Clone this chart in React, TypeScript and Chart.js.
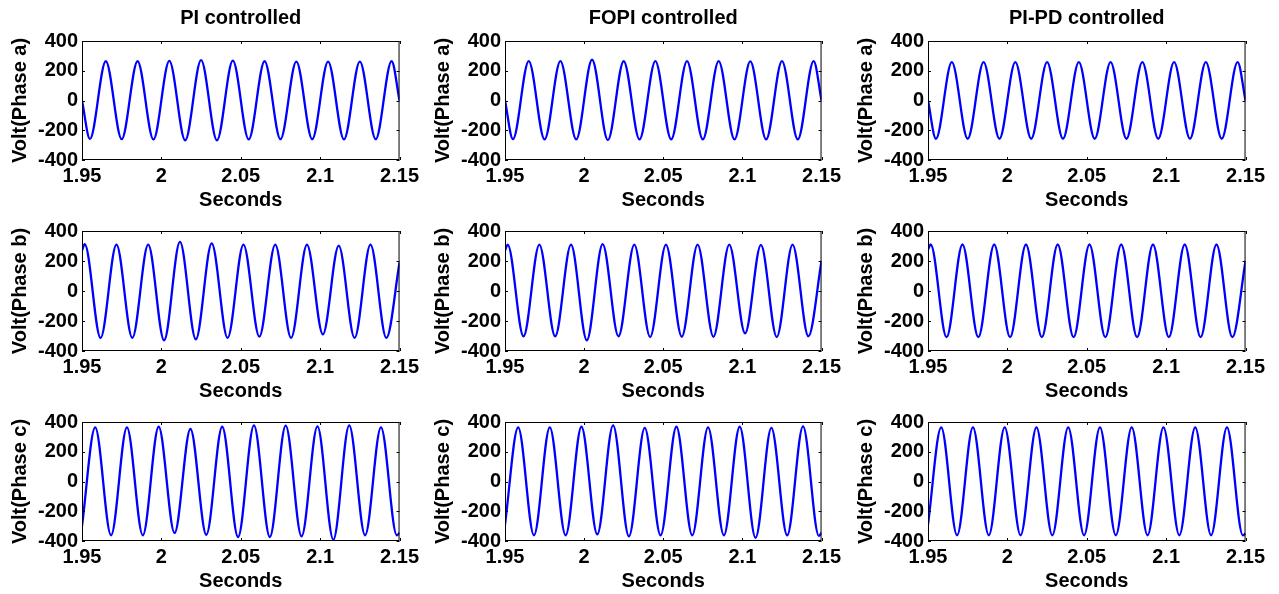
import React, { useEffect, useRef } from "react";
import { Chart, registerables } from "chart.js";

Chart.register(...registerables);

// ---------- data ----------
const COLUMN_TITLES = ["PI controlled", "FOPI controlled", "PI-PD controlled"];
const ROW_LABELS = ["Volt(Phase a)", "Volt(Phase b)", "Volt(Phase c)"];
const X_LABEL = "Seconds";
const X_TICKS = [1.95, 2, 2.05, 2.1, 2.15];
const Y_TICKS = [-400, -200, 0, 200, 400];

// sample times: window ends plus every peak / trough of each phase
const TIME_A = [
  1.95, 1.955, 1.965, 1.975, 1.985, 1.995, 2.005, 2.015, 2.025, 2.035, 2.045,
  2.055, 2.065, 2.075, 2.085, 2.095, 2.105, 2.115, 2.125, 2.135, 2.145, 2.15,
];
const TIME_B = [
  1.95, 1.9517, 1.9617, 1.9717, 1.9817, 1.9917, 2.0017, 2.0117, 2.0217, 2.0317, 2.0417,
  2.0517, 2.0617, 2.0717, 2.0817, 2.0917, 2.1017, 2.1117, 2.1217, 2.1317, 2.1417, 2.15,
];
const TIME_C = [
  1.95, 1.9583, 1.9683, 1.9783, 1.9883, 1.9983, 2.0083, 2.0183, 2.0283, 2.0383, 2.0483,
  2.0583, 2.0683, 2.0783, 2.0883, 2.0983, 2.1083, 2.1183, 2.1283, 2.1383, 2.1483, 2.15,
];

// Phase a voltages
const PI_A = [0, -258, 264, -260, 264, -262, 266, -268, 272, -268, 268, -262, 264, -260, 262, -260, 262, -262, 262, -260, 264, 0];
const FOPI_A = [0, -260, 265, -262, 265, -262, 274, -266, 264, -262, 265, -262, 265, -262, 265, -262, 263, -262, 265, -262, 265, 0];
const PIPD_A = [0, -257, 258, -257, 258, -257, 258, -257, 258, -257, 258, -257, 258, -257, 258, -257, 258, -257, 258, -257, 258, 0];

// Phase b voltages
const PI_B = [270, 313, -313, 309, -313, 309, -329, 327, -322, 318, -313, 309, -304, 309, -313, 309, -289, 302, -313, 309, -313, 190];
const FOPI_B = [270, 309, -302, 309, -302, 309, -329, 313, -302, 309, -307, 309, -305, 309, -305, 309, -282, 307, -307, 309, -302, 200];
const PIPD_B = [275, 310, -308, 310, -308, 310, -308, 310, -308, 310, -308, 310, -308, 310, -308, 310, -308, 310, -308, 310, -308, 200];

// Phase c voltages
const PI_C = [-300, 364, -362, 364, -362, 368, -346, 353, -358, 368, -373, 377, -373, 375, -369, 370, -391, 377, -362, 364, -362, -345];
const FOPI_C = [-290, 364, -362, 364, -362, 368, -355, 377, -369, 360, -362, 368, -362, 364, -362, 368, -378, 360, -362, 370, -365, -345];
const PIPD_C = [-290, 364, -362, 364, -362, 364, -362, 364, -362, 364, -362, 364, -362, 364, -362, 364, -362, 364, -362, 364, -362, -350];

const TIMES = [TIME_A, TIME_B, TIME_C];
const VALUES = [
  [PI_A, FOPI_A, PIPD_A],
  [PI_B, FOPI_B, PIPD_B],
  [PI_C, FOPI_C, PIPD_C],
];

// ---------- layout / style ----------
const FONT_FAMILY = '"Liberation Sans", Arial, Helvetica, sans-serif';
const FONT = { family: FONT_FAMILY, size: 20, weight: "bold" as const };
const COLS = [
  { plotLeft: 82, plotWidth: 318 },
  { plotLeft: 505, plotWidth: 317 },
  { plotLeft: 928, plotWidth: 318 },
];
const ROWS = [
  { plotTop: 41, plotHeight: 119 },
  { plotTop: 231, plotHeight: 120 },
  { plotTop: 422, plotHeight: 119 },
];
const Y_AXIS_W = 82;
const TOP_SPACE = 41;
const X_AXIS_H = 52;
const RIGHT_SPACE = 23;
const TICK_LEN = 3;

const boxPlugin = {
  id: "matlabBox",
  afterDatasetsDraw(chart: any) {
    const { ctx, chartArea, scales } = chart;
    const { left, right, top, bottom } = chartArea;
    const x = scales.x;
    const y = scales.y;
    ctx.save();
    ctx.strokeStyle = "#000";
    ctx.lineWidth = 1;
    ctx.strokeRect(left + 0.5, top + 0.5, right - left - 1, bottom - top - 1);
    ctx.beginPath();
    X_TICKS.forEach((v) => {
      const px = Math.round(x.getPixelForValue(v)) + 0.5;
      ctx.moveTo(px, bottom);
      ctx.lineTo(px, bottom - TICK_LEN);
      ctx.moveTo(px, top);
      ctx.lineTo(px, top + TICK_LEN);
    });
    Y_TICKS.forEach((v) => {
      const py = Math.round(y.getPixelForValue(v)) + 0.5;
      ctx.moveTo(left, py);
      ctx.lineTo(left + TICK_LEN, py);
      ctx.moveTo(right, py);
      ctx.lineTo(right - TICK_LEN, py);
    });
    ctx.stroke();
    ctx.restore();
  },
};

function Panel({ row, col }: { row: number; col: number }) {
  const ref = useRef<HTMLCanvasElement>(null);
  const c = COLS[col];
  const r = ROWS[row];
  const left = c.plotLeft - Y_AXIS_W;
  const top = r.plotTop - TOP_SPACE;
  const width = Y_AXIS_W + c.plotWidth + RIGHT_SPACE;
  const height = TOP_SPACE + r.plotHeight + X_AXIS_H;
  const title = row === 0 ? COLUMN_TITLES[col] : "";

  useEffect(() => {
    const time = TIMES[row];
    const values = VALUES[row][col];
    const chart = new Chart(ref.current as HTMLCanvasElement, {
      type: "line",
      data: {
        datasets: [
          {
            data: time.map((t, i) => ({ x: t, y: values[i] })),
            borderColor: "#0000ff",
            borderWidth: 2.3,
            pointRadius: 0,
            cubicInterpolationMode: "monotone",
            fill: false,
          },
        ],
      },
      options: {
        animation: false,
        responsive: false,
        maintainAspectRatio: false,
        events: [],
        layout: {
          padding: { top: title ? 0 : TOP_SPACE, right: width - Y_AXIS_W - c.plotWidth, bottom: 0, left: 0 },
        },
        plugins: {
          legend: { display: false },
          tooltip: { enabled: false },
          title: {
            display: !!title,
            text: title,
            color: "#000",
            font: FONT,
            fullSize: false,
            padding: { top: 6, bottom: TOP_SPACE - 6 - 24 },
          },
        },
        scales: {
          x: {
            type: "linear",
            min: 1.95,
            max: 2.15,
            afterBuildTicks: (s: any) => {
              s.ticks = X_TICKS.map((v) => ({ value: v }));
            },
            afterFit: (s: any) => {
              s.height = X_AXIS_H;
            },
            ticks: {
              color: "#000",
              font: FONT,
              padding: 4,
              maxRotation: 0,
              autoSkip: false,
              callback: (v: any) => String(v),
            },
            grid: { display: false, drawTicks: false },
            border: { display: false },
            title: {
              display: true,
              text: X_LABEL,
              color: "#000",
              font: FONT,
              padding: { top: 0, bottom: 0 },
            },
          },
          y: {
            type: "linear",
            min: -400,
            max: 400,
            afterBuildTicks: (s: any) => {
              s.ticks = Y_TICKS.map((v) => ({ value: v }));
            },
            afterFit: (s: any) => {
              s.width = Y_AXIS_W;
            },
            ticks: {
              color: "#000",
              font: FONT,
              padding: 4,
              autoSkip: false,
              callback: (v: any) => String(v),
            },
            grid: { display: false, drawTicks: false },
            border: { display: false },
            title: {
              display: true,
              text: ROW_LABELS[row],
              color: "#000",
              font: FONT,
              padding: { top: 8, bottom: 0 },
            },
          },
        },
      },
      plugins: [boxPlugin],
    } as any);
    return () => chart.destroy();
  }, [row, col]);

  return (
    <canvas
      ref={ref}
      width={width}
      height={height}
      style={{ position: "absolute", left, top, width, height }}
    />
  );
}

export default function App() {
  const panels = [];
  for (let r = 0; r < 3; r++) {
    for (let c = 0; c < 3; c++) {
      panels.push(<Panel key={`${r}-${c}`} row={r} col={c} />);
    }
  }
  return (
    <div
      style={{
        position: "absolute",
        left: 0,
        top: 0,
        width: 1279,
        height: 594,
        background: "#fff",
        overflow: "hidden",
      }}
    >
      {panels}
    </div>
  );
}
